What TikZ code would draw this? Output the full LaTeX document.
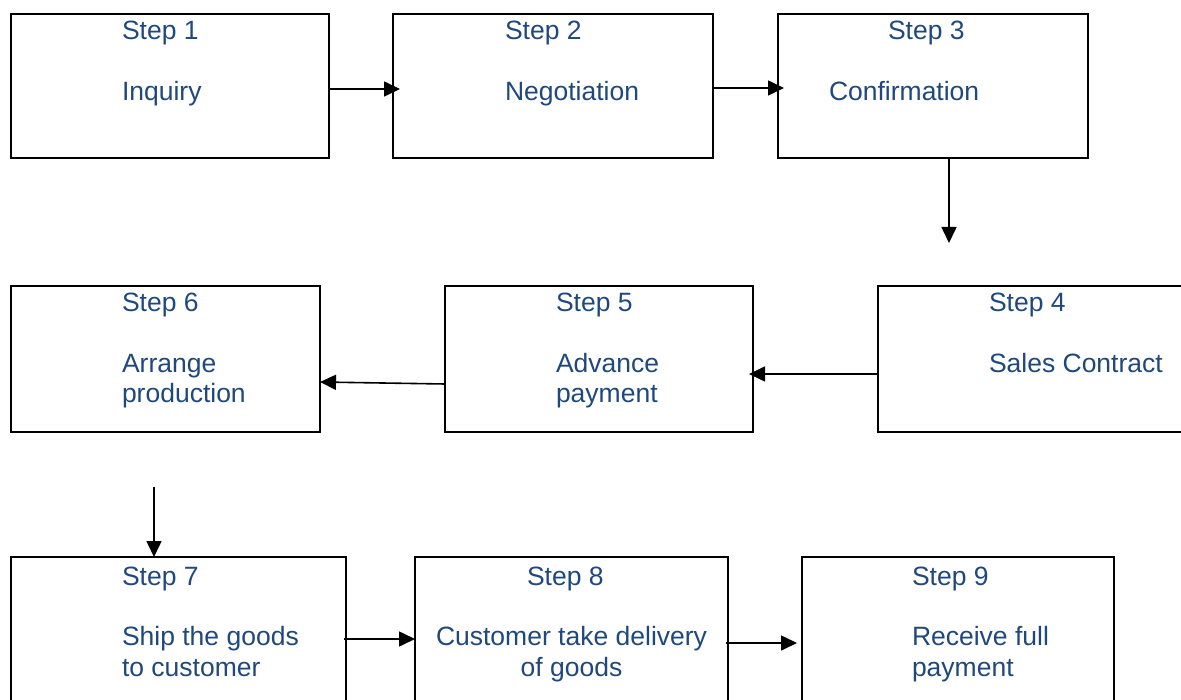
\documentclass[tikz,border=0pt]{standalone}
\usepackage{fontspec}
\setmainfont{Liberation Sans}
\usetikzlibrary{arrows.meta}
\definecolor{txtblue}{RGB}{31,73,125}
\begin{document}
\begin{tikzpicture}[x=1pt,y=-1pt,
  box/.style={draw=black,line width=2.2pt,rectangle,inner sep=0pt,outer sep=0pt},
  lbl/.style={anchor=base west,inner sep=0pt,outer sep=0pt,text=txtblue,font=\fontsize{26.5}{30}\selectfont},
  clbl/.style={anchor=base,inner sep=0pt,outer sep=0pt,text=txtblue,font=\fontsize{26.5}{30}\selectfont},
  arr/.style={draw=black,line width=1.6pt,-{Triangle[length=16pt,width=15pt]}}]
\clip (0,0) rectangle (1181,700);
\fill[white] (0,0) rectangle (1181,700);
% boxes
\node[box,minimum width=318pt,minimum height=144pt] (b1) at (170,86) {};
\node[box,minimum width=320pt,minimum height=144pt] (b2) at (553,86) {};
\node[box,minimum width=310pt,minimum height=144pt] (b3) at (933,86) {};
\node[box,minimum width=317pt,minimum height=146pt] (b4) at (1036.5,359) {};
\node[box,minimum width=308pt,minimum height=146pt] (b5) at (599,359) {};
\node[box,minimum width=309pt,minimum height=146pt] (b6) at (165.5,359) {};
\node[box,minimum width=335pt,minimum height=158pt] (b7) at (178.5,636) {};
\node[box,minimum width=313pt,minimum height=158pt] (b8) at (571.5,636) {};
\node[box,minimum width=312pt,minimum height=158pt] (b9) at (958,636) {};
% texts
\node[lbl] (s1) at (122,40) {Step 1};
\node[lbl] (t1) at (122,101) {Inquiry};
\node[lbl] (s2) at (505,40) {Step 2};
\node[lbl] (t2) at (505,101) {Negotiation};
\node[lbl] (s3) at (888,40) {Step 3};
\node[lbl] (t3) at (829,101) {Confirmation};
\node[lbl] (s4) at (989,312) {Step 4};
\node[lbl] (t4) at (989,373) {Sales Contract};
\node[lbl] (s5) at (556,312) {Step 5};
\node[lbl] (t5a) at (556,373) {Advance};
\node[lbl] (t5b) at (556,403) {payment};
\node[lbl] (s6) at (122,312) {Step 6};
\node[lbl] (t6a) at (122,373) {Arrange};
\node[lbl] (t6b) at (122,403) {production};
\node[lbl] (s7) at (122,585) {Step 7};
\node[lbl] (t7a) at (122,645) {Ship the goods};
\node[lbl] (t7b) at (122,676) {to customer};
\node[lbl] (s8) at (527,585) {Step 8};
\node[clbl] (t8a) at (571.5,645) {Customer take delivery};
\node[clbl] (t8b) at (571.5,676) {of goods};
\node[lbl] (s9) at (912,585) {Step 9};
\node[lbl] (t9a) at (912,645) {Receive full};
\node[lbl] (t9b) at (912,676) {payment};
% free ends
\coordinate (c3) at (949,243);
\coordinate (c6) at (154,487);
% connectors
\draw[arr] ([yshift=-3pt]b1.east) -- ([xshift=7pt,yshift=-3pt]b2.west);
\draw[arr] ([yshift=-2pt]b2.east) -- ([xshift=6pt,yshift=-2pt]b3.west);
\draw[arr] ([xshift=16pt]b3.south) -- (c3);
\draw[arr] ([yshift=-15pt]b4.west) -- ([xshift=-4pt,yshift=-15pt]b5.east);
\draw[arr] ([yshift=-25pt]b5.west) -- ([yshift=-23pt]b6.east);
\draw[arr] (c6) -- ([xshift=-24.5pt]b7.north);
\draw[arr] ([xshift=-2pt,yshift=-3pt]b7.east) -- ([yshift=-3pt]b8.west);
\draw[arr] ([xshift=-2pt,yshift=-7pt]b8.east) -- ([xshift=-5pt,yshift=-7pt]b9.west);
\end{tikzpicture}
\end{document}
